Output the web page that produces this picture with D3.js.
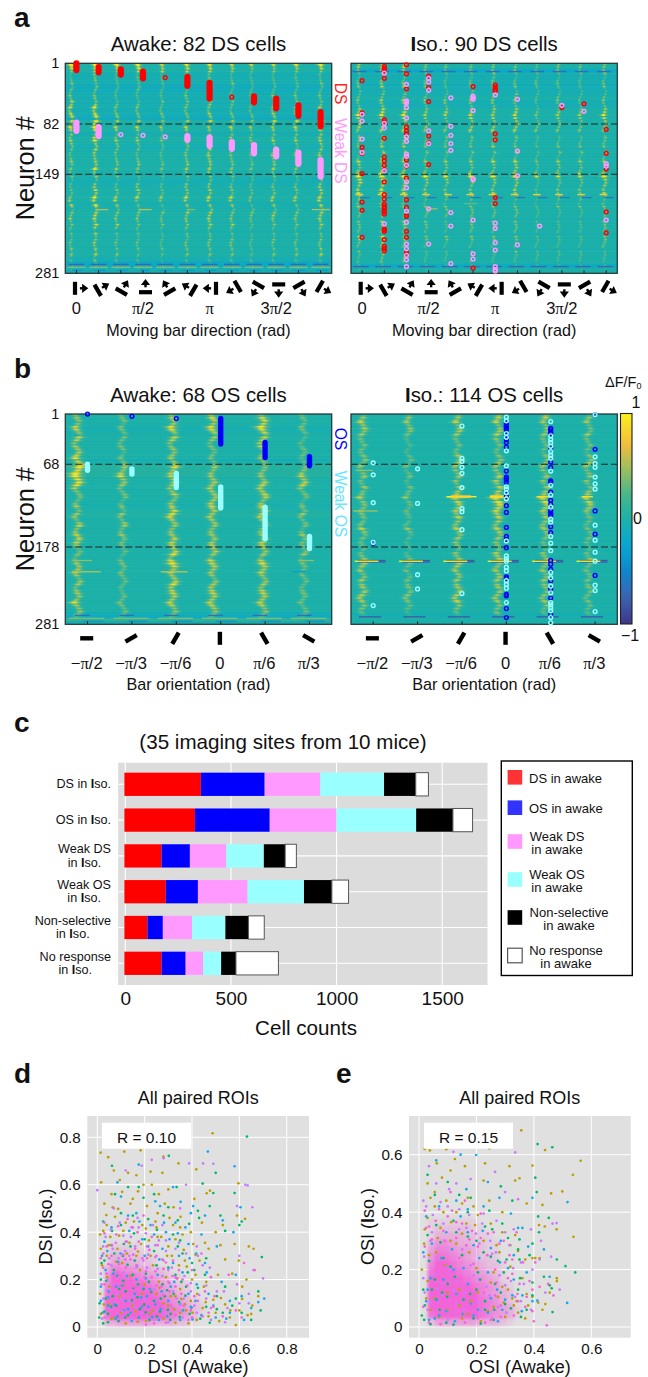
<!DOCTYPE html>
<html><head><meta charset="utf-8">
<script src="https://cdn.jsdelivr.net/npm/d3@7/dist/d3.min.js"></script>
<style>html,body{margin:0;padding:0;background:#fff}svg{display:block}text{font-family:"Liberation Sans",Arial,sans-serif;fill:#111}</style>
</head><body><svg id="fig" width="648" height="1377"></svg>
<script>
// ---------- panels a / b : stimuli ----------
const directionLabels = ["0","","","π/2","","","π","","","3π/2","",""];
const directionAngles = [0,30,60,90,120,150,180,210,240,270,300,330];
const orientationLabels = ["−π/2","−π/3","−π/6","0","π/6","π/3"];
const orientationAngles = [-90,-60,-30,0,30,60];
// streak offset from each tick, in stimulus units
const aLeftLag = [-.24,-.15,-.19,-.23,-.15,-.03,0,0,-.12,-.12,-.1,0];
const aRightLag = [-.15,-.09,-.1,-.13,-.22,-.08,-.08,-.08,-.12,-.15,-.16,-.08];
const bLeftLag = [-.23,-.21,-.08,-.18,-.05,-.14];
const bRightLag = [-.24,-.21,-.1,-.19,-.13,-.15];
// response strength per 4-neuron band, one string per stimulus (0..9)
const aLeftHeat = [
"8632223232335454565576553444332344333321223334452335332432232433521110",
"8754332432343465576887655645553445664432346565574456454353343444532110",
"7532222222222333344445433434342334343321224345343334343232232323421110",
"7642322332222333334445433433332335433221335453433334332432232322421110",
"5442222222223223334344322323232224332211223343322323332222222322311110",
"6543322322333333334445434434343335443322334454343434433333233333421110",
"6543333433334433445544444444444445544333335454444445443433333333421110",
"5432223222323322334435344343333334434322234354343334343332333333421110",
"5322222222222223233334333332322224332222223333323333322222222222321110",
"5332222322333333445544443433334335443322233444343344332332332323421110",
"6432322322333333445545443433333335433222234344333334332332232333421110",
"7533223322333344556675554444444446544433345555455445443433333434521110"];
const aRightHeat = [
"5432223323233344567655334433432356347966554644443433333334433232223110",
"6543334433334455667755434544443457558877665755544544444445544343334110",
"6543324433334444667655434544443456547866654644443444444344533333333110",
"4332223322233333445444333333332245336844443433332333333233322222222110",
"3322222222223433544433333333332245336644333333333233222223322222221110",
"3332223333333444557544433333332345336844433433433333333333322322222110",
"4333333333333444446544443434332355336744443533432333333233322322222110",
"3332223322333344557654433333442356447844544433333333333333322232222110",
"3222223222222222333333322222222234226522222222222222222222222222221110",
"4332223222233333445433332233332245336533333333332222222232222222221110",
"3322222222222233445433332233332244336533333323332222222222222222221110",
"4333223322233344567654333333332345337754543533433333333333333322222110"];
const bLeftHeat = [
"4434554554445566787998765433334334434544555433344445543443444464443200",
"3332333333332233444565443333223324334433433323223333333323223333332100",
"4545664554344444565555544453444566654444455555666765545565555555443200",
"5645665443333333344445545544555554554444444555446555443445555555543210",
"4656766555544444434444555555445665554444455554455655544444555555443200",
"3323333223233323334455554333223334333323433333433333233323333332332100"];
const bRightHeat = [
"3455544433333344343444334345444344334454333332344554434445445544432100",
"3444443322222233232333223334333233223343222221233332323334334433321100",
"4454454433333455544444434457665454544554444432444555444445545554432100",
"5554455443333344544455545557887565554555444433555445445445444544433100",
"5544444433332344444344434456775454444544433322444444434444434444332100",
"3443334433332344543443433455665443333333333222334333333334333333322100"];
// row-by-row gain, in 2-neuron bands, shared by all stimuli of a panel (5 = unchanged)
const aLeftGain  = "97584936275849163758294638175926485731946285730618492745381659274836159274083651948271635948207516394827561938420756193848276159304827165930";
const aRightGain = "64827395162847395061827394615283749061528374961058273649105827364915082736491827360591827364051928374650192837465019283746501928374651902837";
const bLeftGain  = "75869475968574295847396847586927586957486937486958475968574869758496857486937486957849685748695348596847596857486957486958475968574869586749";
const bRightGain = "46857946385749628574963857496285749638374962857296385749628574968574962857469385749628574693857496285746938574962857469385749628374693857462";
// row-by-row shift of the response, same bands (0..9, ~4.5 = centred)
const aLeftShift  = "45566543344556776543234456654332345677654334456543345567654323345566554334566765433456654322345678765433445654334556654323455665433456776543";
const aRightShift = "54433456654323445677654332345665543345677654323456654334556765433445665432345667654334456554323456776543344566543345667543234566544334567654";
const bLeftShift  = "34456654334567765432234566543345677665433345665432345677654334456543234567654333456654345567654323445665433456776543344566543234566765433456";
const bRightShift = "65543345667654323445665433456776543233456654334567654432345667543345566543234566765433445654334567765432345665433445676543234566543345677654";
// overall tint of each band across the whole width (0..9, 5 = neutral)
const aLeftTone  = "5554444333444444433555545554455555555544455555545555555555555555542244";
const aRightTone = "5514444344454445555555555555555555555555555555555555555555555555555155";
const bLeftTone  = "5555445555555554566665555555554556555555555555555555555555555555553274";
const bRightTone = "5555555555555555555555555555555555555555555555555555555555555555554455";
// [neuron, from, to, value] repeated at each stimulus (units around the tick)
const aLeftRepeat = [[269,-.35,.35,-.75],[273,-.42,.42,.42],[277,-.2,.3,-.35]];
const aRightRepeat = [[12,-.42,.2,-.7],[180,-.1,.35,-.6],[176,-.3,.05,.8],[272,-.4,.3,-.75]];
const bLeftRepeat = [[269,-.28,.05,-.65],[273,-.42,.38,.4],[277,-.1,.35,-.4]];
const bRightRepeat = [[196,-.35,.28,-.8],[198,-.35,.28,-.8],[197,-.42,.12,1],[271,-.32,.18,-.8]];
// [neuron, from, to, value] single rows, in stimulus positions
const aLeftOnce = [[196,.84,1.44,.55],[196,2.78,3.39,.55],[196,4.97,5.34,.4],[196,10.6,11.42,.55]];
const aRightOnce = [[195,2.9,3.4,.5],[188,4.6,5.2,.3]];
const bLeftOnce = [[211,-.35,.3,.55],[211,1.65,2.25,.6],[196,-.3,.1,.45],[196,4.75,5.1,.45],[211,4.6,4.9,-.35]];
const bRightOnce = [[111,1.65,2.33,1],[110,1.75,2.2,.8],[112,1.75,2.2,.8],[111,2.63,3.08,1],[110,2.63,3,.85],[112,2.63,3,.85],[111,3.68,4.0,.9],[111,4.7,4.95,.9],[130,-.45,.1,.5],[76,-.4,0,.45]];
// awake panels: selective cells sorted by preferred stimulus, [stimulus, first neuron, last neuron]
const aLeftStrong = [[0,1,10],[1,6,13],[2,9,16],[3,12,21],[4,20,20],[5,19,31],[6,27,48],[7,46,46],[8,45,53],[9,48,61],[10,57,71],[11,66,85]];
const aLeftWeak = [[0,80,91],[1,86,98],[2,96,96],[3,97,97],[4,99,99],[5,98,103],[6,100,111],[7,106,115],[8,110,121],[9,116,125],[10,120,135],[11,130,152]];
const bLeftStrong = [[0,1,1],[1,4,4],[2,7,7],[3,7,41],[4,39,59],[5,58,70]];
const bLeftWeak = [[0,68,76],[1,74,81],[2,80,99],[3,98,126],[4,125,167],[5,164,180]];
// isoflurane panels: neurons marked at each stimulus
const aRightStrong = [[24,67,113,121,148,186,197,233],[5,8,11,21,76,79,101,126,131,137,143,159,176,182,189,192,194,197,199,202,222,223,225,236,245,248,251],[3,15,35,86,91,95,130,138,154,183,193,204,205,225,233,253,256],[18,33,52,98,107,136],[],[32,274],[30,33,36,38,95,103,180,188],[],[],[60],[55],[89,121,142,199,227]];
const aRightWeak = [[69,78,102,120],[14,81,87,144,215],[29,51,52,54,60,74,99,105,122,125,137,159,167,198,213,242,248,257,263,272],[21,26,37,91,108,195,242],[47,85,97,108,117,200,218,268],[45,47,49,64,155,156,210,255,262],[43,214,221,240,250,272,276,278],[49,118,151,243],[218],[57],[65],[135,138,210]];
const bRightStrong = [[173],[],[],[13,16,18,20,22,29,35,39,45,77,85,87,89,92,103,111,123,132,152,164,168,179,218,220,241,243,260,272],[20,22,25,27,46,65,72,90,92,105,116,121,130,133,136,151,159,196,201,208,223,234,246,268],[2,48,130,161,216]];
const bRightWeak = [[66,82,119,172,256],[74,120,215,234],[17,60,64,72,80,99,127,131,155,240],[5,10,27,32,50,70,98,101,106,114,170,190,194,197,205,210,223,228,233,252],[11,30,35,39,44,51,56,60,77,96,109,125,141,145,164,173,183,212,219,230,239,252,255,259,263,272,279],[2,58,67,72,85,94,101,149,169,185,197,229,236,264]];
const rowTicksA = [1,82,149,281], rowTicksB = [1,68,178,281];
// ---------- panel c ----------
const isoStates = ["DS in Iso.","OS in Iso.","Weak DS|in Iso.","Weak OS|in Iso.","Non-selective|in Iso.","No response|in Iso."];
const awakeStates = ["DS in awake","OS in awake","Weak DS|in awake","Weak OS|in awake","Non-selective|in awake","No response|in awake"];
const dsAwake = [362,334,176,196,109,176];
const osAwake = [302,354,134,152,73,114];
const weakDsAwake = [263,316,172,235,138,82];
const weakOsAwake = [302,377,178,267,158,86];
const nonSelAwake = [150,174,101,132,109,70];
const noRespAwake = [60,93,53,79,75,201];
const countSeries = [dsAwake,osAwake,weakDsAwake,weakOsAwake,nonSelAwake,noRespAwake];
const countTicks = [0,500,1000,1500];
// ---------- panels d / e : points as x,y,x,y... in thousandths ----------
const dGold = [487,817,14,735,46,716,114,740,183,745,279,719,462,564,476,575,596,606,624,456,70,660,95,620,130,650,165,640,225,655,275,650,343,690,418,665,230,600,300,580,410,540,60,560,140,520,210,510,255,480,305,460,350,420,395,400,442,440,500,400,530,430,590,470,580,350,640,340,660,330,540,285,598,280,470,330,432,280,510,220,570,225,630,200,680,130,655,90,600,70,635,50,585,8,540,95,490,115,450,170,400,200,345,260,300,340,255,380,190,430,120,440,30,520,12,390,55,380,85,330,165,300,235,260,290,210,350,160,395,110,445,80,500,60,560,40,350,60,300,90,250,140,200,180,150,90,100,60,50,170,20,260,16,610,38,472,88,498,172,572,246,445,322,505,365,325,415,305,455,355,520,345,612,170,650,55,420,30,385,15,330,18,280,35,222,55,170,22,120,15,72,38,28,95,12,140,40,300,105,270,180,240,260,190,330,130,375,70,422,140,470,45,515,25,
 40,430,75,465,110,405,155,445,205,415,250,420,295,300,330,370,370,280,415,220,460,190,42,210,80,275,125,310,185,350,225,300,270,380,315,300,360,390,405,350,50,95,95,130,140,215,190,140,235,70,280,100,325,75,370,95,15,55,60,35,110,175,160,65,205,25,15,330,65,505,105,570,150,540,195,600,260,560,320,430,285,520,352,465,378,255,338,205,262,165,310,130,355,118,402,60,458,105,522,122,562,70,612,118,25,405,48,345,92,385,136,355,172,318,218,365];
const dGreen = [632,803,500,650,302,722,62,680,175,590,240,560,335,590,445,605,490,565,580,565,425,490,475,510,540,405,600,430,695,295,680,150,690,70,650,30,585,120,540,170,505,130,455,220,400,270,360,310,320,390,280,470,215,455,155,395,100,430,60,345,30,280,15,200,10,100,8,40,45,20,80,90,120,150,150,220,195,160,240,110,265,65,310,55,345,105,390,55,435,35,475,18,530,60,570,90,610,60,75,560,130,590,195,545,350,365,430,460,520,470,610,445,25,445,70,240,110,195,170,125,220,30,285,130,330,220,375,170,410,240,30,65,65,130,130,50,180,75,90,25,25,15,140,340,240,320,300,250,460,290,505,75,
 35,120,58,85,92,160,118,40,146,112,172,180,204,62,228,148,252,44,276,180,298,72,322,140,348,42,372,132,398,82,38,195,72,310,112,350,158,280,205,225,250,260,295,155,340,340,382,230,425,165,460,85,100,480,150,470,200,370,252,410,300,505,340,450,388,435,18,270,62,405,108,300,152,165,198,95,45,55,85,215,128,262,175,40,218,190,268,120,308,30,355,190];
const dBlue = [467,740,580,678,320,590,100,550,85,610,175,685,352,528,405,510,455,470,530,450,605,505,575,400,505,340,440,390,385,350,330,440,290,400,245,530,190,370,130,470,60,420,20,300,15,170,35,240,80,170,120,110,165,200,210,130,255,220,310,170,360,230,420,180,470,140,525,190,560,110,585,220,610,130,650,80,705,120,680,105,620,30,545,35,490,90,440,50,395,85,350,30,300,110,260,30,215,85,175,40,130,75,85,45,45,125,200,300,275,330,345,300,390,290,350,95,455,270,30,360,165,480,225,430,265,510,395,480,500,40,560,60,320,270,
 22,60,48,150,72,95,105,175,140,60,158,140,188,85,222,160,245,95,272,150,295,45,325,190,362,70,385,140,415,110,68,225,98,310,135,405,178,445,215,340,262,285,305,370,372,420,418,310,462,230,42,320,88,275,125,215,168,258,205,205,240,390,282,440,340,395,45,90,78,35,112,70,145,25,185,125,232,42,268,75,402,32,15,110];
const dPurple = [0,577,280,712,230,705,188,680,120,660,490,688,447,690,388,690,375,600,625,600,635,597,655,505,590,510,600,300,660,240,700,205,640,140,590,180,535,150,475,250,420,340,375,310,330,330,290,365,245,345,205,395,150,420,110,385,65,330,35,380,15,225,25,120,60,260,110,230,160,340,195,280,240,160,280,280,320,150,365,120,410,90,460,120,505,150,550,80,600,100,640,100,540,20,480,30,420,60,360,40,300,20,250,70,200,115,150,130,100,120,50,80,20,35,170,460,275,430,350,500,445,260,330,210,70,500,125,360,90,290,255,245,190,60,140,35,90,210,45,200,300,240,395,150,240,30,
 30,440,50,290,78,355,118,320,142,380,175,420,215,305,235,430,260,365,290,320,315,250,345,355,368,215,395,185,425,300,460,175,25,340,58,410,95,440,135,300,165,250,210,250,245,295,275,215,305,185,335,120,18,180,40,155,62,175,85,140,108,65,135,110,158,85,185,165,212,45,250,115,282,60,315,85,352,95,385,30,430,135,480,80];
const dPink = [665,240,620,270,555,220,480,210,440,310,400,240,360,200,320,280,280,245,250,300,210,340,170,400,120,360,80,390,40,340,15,290,145,420,195,470,230,380,355,140,310,90,425,110,490,85,530,45,585,70,610,40,470,60,400,40,330,50,290,18,240,15,205,10,260,100,200,210,120,250,60,300,30,180,95,150,150,170,175,105,135,190,85,230,55,110,105,85,215,155,60,60,30,40,245,60,165,45,270,170,25,250,190,290,300,190,330,170,40,225,110,305,165,260,230,210,140,285,70,200,280,135,205,235,250,175,
 30,395,62,345,88,425,128,455,152,305,175,360,220,325,255,345,290,272,318,215,345,240,380,175,410,130,455,150,495,130,25,310,48,265,92,265,118,285,160,330,210,290,245,235,275,285,305,150,335,205,365,90,395,70,445,45];
const dDensity = ["001111100000000000","012222111000000000","013332221100000000","014443322100000000","036655443221000000","048877654432110000","059988776543211000","069999887654321100","079999998765432100","089999998876543210","089999999887654321","089999999987765321","079999999887654320","033444444333322100"];
const eGold = [356,685,439,616,563,579,536,530,499,472,538,314,20,620,38,615,95,619,245,622,125,585,62,570,160,560,230,570,315,560,335,510,350,518,395,562,375,430,430,425,460,465,418,355,438,350,479,340,405,240,420,240,480,160,455,120,415,85,375,115,345,50,300,35,260,70,215,20,180,90,140,130,100,60,55,100,30,160,18,290,40,450,95,440,170,450,225,510,290,400,335,320,280,260,225,300,165,360,110,300,60,260,30,380,10,200,200,205,250,155,310,130,360,170,440,80,480,170,430,60,330,75,370,30,275,105,150,30,90,215,130,400,75,345,
 30,500,55,470,80,520,110,545,150,430,190,420,205,390,250,360,290,330,318,285,345,265,370,235,395,240,290,140,325,100,260,190,215,165,175,260,130,290,85,400,55,420,20,340,25,100,40,60,70,35,100,120,140,75,170,45,205,120,240,55,295,85,340,90,380,75,395,105,318,210,270,285,245,440,195,355,150,325,112,365,65,310,35,250];
const eGreen = [413,637,464,626,405,520,410,470,452,380,418,330,544,190,510,212,480,235,462,135,455,145,435,175,465,52,395,110,355,35,300,80,265,150,305,235,350,305,395,290,415,385,325,440,290,360,245,405,285,490,180,450,100,505,55,460,120,370,75,295,35,230,15,130,10,40,40,10,120,8,215,12,155,95,100,150,200,130,250,245,170,315,230,350,295,190,345,130,395,155,30,530,150,250,60,95,230,60,350,235,95,15,
 20,75,45,130,72,60,98,105,125,175,150,45,178,115,205,190,230,90,262,60,285,120,320,65,352,170,375,60,140,460,170,400,200,300,225,260,255,340,275,230,310,310,345,270,385,250,30,320,60,355,85,240,110,210,130,330,18,25,55,165,80,120,190,30,260,25];
const eBlue = [199,599,517,435,516,84,395,450,280,450,240,505,145,600,60,580,165,480,320,395,360,345,435,270,412,92,455,175,375,190,325,110,285,300,225,420,130,440,70,420,25,385,15,260,25,90,70,40,120,200,170,150,210,240,250,100,290,60,330,250,395,90,360,110,170,330,95,330,40,170,275,20,190,40,125,20,55,30,
 30,130,62,95,95,55,130,115,155,205,180,80,212,165,240,50,272,130,300,95,330,165,358,55,45,290,78,240,115,270,145,385,190,285,222,335,250,275,282,225,310,205,345,345,380,280,35,25,85,165,205,60,240,190,170,410];
const ePurple = [335,608,479,362,15,440,60,500,35,560,120,610,265,540,180,515,130,500,100,420,300,470,345,445,330,340,390,340,425,300,460,245,465,360,490,130,440,120,395,200,355,225,315,285,270,370,220,360,175,390,140,340,85,360,40,300,15,170,30,60,80,110,130,160,190,180,235,140,280,180,320,160,355,90,305,50,255,30,205,85,155,60,100,25,60,240,210,290,255,255,150,270,
 25,420,48,390,75,435,105,480,140,410,165,345,198,325,225,395,248,300,268,260,300,330,328,205,365,150,390,60,420,235,55,180,82,150,108,200,130,80,162,120,180,215,215,55,245,110,275,70,300,145,335,105,20,120,40,85,65,135,95,210,120,130,145,45,18,245,45,330];
const ePink = [445,6,400,20,343,115,370,70,395,130,362,225,340,330,405,225,450,150,468,110,420,140,385,160,325,235,295,300,260,330,215,395,160,440,110,470,70,410,35,350,20,280,175,305,130,365,90,300,55,200,215,310,265,200,310,170,285,75,330,40,250,25,205,30,160,15,115,40,75,10,35,15,15,70,225,120,175,75,120,120,65,150,40,110,265,110,190,220,140,240,
 25,345,58,370,85,335,115,405,150,360,185,335,205,280,238,250,270,155,300,225,325,185,350,150,375,105,395,55,20,405,45,305,100,385,130,310,165,285,240,325,280,290,315,250,345,90,285,35,230,15,195,55];
const eDensity = ["01111111000000","01222221100000","01333322110000","03554332211000","04665443211000","05776543221000","06887654322100","07998765432100","08999876543100","08999987654210","08999988654320","08999998765320","08999998765431","07999998765431","02444444333210"];
const scatterColors = ["#b9a000","#00b96b","#18a8f0","#c77cff","#f564d8"];
const dSeries = [dGold,dGreen,dBlue,dPurple,dPink];
const eSeries = [eGold,eGreen,eBlue,ePurple,ePink];
const scatterTicksD = [0,.2,.4,.6,.8], scatterTicksE = [0,.2,.4,.6];

const svg = d3.select("#fig");
const defs = svg.append("defs");
const SANS = '"Liberation Sans",Arial,sans-serif', SERIF = '"Liberation Serif",serif';
const heatColor = d3.scaleLinear().domain([-1,-.75,-.5,-.25,0,.2,.5,.72,1])
  .range(["#3d3689","#3d63b0","#0f86cc","#08a8d2","#1db1aa","#3fb68e","#a5bf5c","#f6bd3c","#f9f11a"]);
const streakColor = d3.scaleLinear().domain([0,.22,.5,.85]).range(["#1db1aa","#5eba80","#c4ca3c","#f8ea1c"]).clamp(true);

function mathText(sel, str){
  str.split(/(π)/).forEach(p=>{ if(!p) return;
    sel.append("tspan").attr("font-family",p==="π"?SERIF:SANS).style("font-family",p==="π"?SERIF:SANS).text(p); });
}
function isoText(sel,str){
  str.split(/(I(?=so))/).forEach(p=>{ if(!p) return;
    const t=sel.append("tspan").text(p); if(p==="I") t.attr("font-weight","bold"); });
}
function label(x,y,str,size,opt={}){
  const t=svg.append("text").attr("x",x).attr("y",y).attr("font-size",size)
    .attr("text-anchor",opt.anchor||"middle").attr("dominant-baseline","central");
  if(opt.color) t.style("fill",opt.color);
  if(opt.weight) t.attr("font-weight",opt.weight);
  if(opt.rotate!==undefined) t.attr("transform",`rotate(${opt.rotate} ${x} ${y})`);
  if(opt.math) mathText(t,str); else isoText(t,str);
  return t;
}
["a","b","c","d","e"].forEach((l,i)=>{
  svg.append("text").attr("x",[14,14,14,14,336][i]).attr("y",[27,378,732,1083,1083][i])
    .attr("font-size",28).attr("font-weight","bold").text(l);
});
defs.append("filter").attr("id","soft").attr("x","-5%").attr("y","-5%").attr("width","110%").attr("height","110%")
  .append("feGaussianBlur").attr("stdDeviation","0.5 0.25");
defs.append("filter").attr("id","softB").attr("x","-5%").attr("y","-5%").attr("width","110%").attr("height","110%")
  .append("feGaussianBlur").attr("stdDeviation","1.2 0.25");
defs.append("filter").attr("id","blob").attr("x","-10%").attr("y","-10%").attr("width","120%").attr("height","120%")
  .append("feGaussianBlur").attr("stdDeviation","1.4");

let clipId=0;
function heatPanel(o){
  const x=d3.scaleLinear().domain([-.5,o.n-.5]).range([o.x0,o.x1]);
  const y=d3.scaleLinear().domain([1,281]).range([o.y0,o.y1]);
  const bandH=(o.y1-o.y0)/70, fineH=bandH/2;
  const id="clip"+(clipId++);
  defs.append("clipPath").attr("id",id).append("rect").attr("x",o.x0).attr("y",o.y0).attr("width",o.x1-o.x0).attr("height",o.y1-o.y0);
  const g=svg.append("g").attr("clip-path",`url(#${id})`);
  g.append("rect").attr("x",o.x0).attr("y",o.y0).attr("width",o.x1-o.x0).attr("height",o.y1-o.y0).attr("fill",heatColor(0));
  const bands=d3.range(70), fine=d3.range(140);
  g.selectAll(".tone").data(bands).join("rect").attr("x",o.x0).attr("width",o.x1-o.x0)
    .attr("y",i=>o.y0+i*bandH).attr("height",bandH+.3)
    .attr("fill",i=>heatColor((+o.tone[i]-5)*.055));
  g.selectAll(".toneFine").data(fine).join("rect").attr("x",o.x0).attr("width",o.x1-o.x0)
    .attr("y",i=>o.y0+i*fineH).attr("height",fineH)
    .attr("fill",i=>+o.gain[i]>5?"#2fba90":"#109fc0").attr("opacity",i=>Math.abs(+o.gain[i]-5)*.025);
  const sg=g.append("g").attr("filter",`url(#${o.n===12?"soft":"softB"})`);
  const base=o.n===12?{c:.3,k:.16,m:1.7,h:3.0,s:.028,hf:.16,mf:.45,amp:.72}:{c:.5,k:.27,m:2.0,h:3.6,s:.028,hf:.15,mf:.42,amp:.66};
  o.heat.forEach((col,s)=>{
    const val=i=>Math.min(9,+col[Math.floor(i/2)]*(+o.gain[i])/5*base.amp);
    const cx=i=>x(s+o.lag[s]+(+o.shift[i]-4.5)*base.s);
    [[base.h,base.hf],[base.m,base.mf],[1,1]].forEach(([mul,f])=>{
      sg.append("g").selectAll("rect").data(fine.filter(i=>val(i)>.3)).join("rect")
        .attr("x",i=>cx(i)-(base.c+base.k*val(i))*mul).attr("width",i=>2*(base.c+base.k*val(i))*mul)
        .attr("y",i=>o.y0+i*fineH).attr("height",fineH+.15)
        .attr("fill",i=>streakColor(val(i)/9*f));
    });
  });
  const rows=[];
  d3.range(o.n).forEach(s=>o.repeat.forEach(r=>rows.push([r[0],s+r[1],s+r[2],r[3]])));
  o.once.forEach(r=>rows.push(r));
  g.selectAll(".bar").data(rows).join("rect").attr("x",d=>x(d[1])).attr("width",d=>x(d[2])-x(d[1]))
    .attr("y",d=>y(d[0])-.6).attr("height",1.3).attr("fill",d=>heatColor(d[3]));
  o.rowTicks.slice(1,3).forEach(r=>{
    svg.append("line").attr("x1",o.x0).attr("x2",o.x1).attr("y1",y(r)).attr("y2",y(r))
      .attr("stroke","#222").attr("stroke-width",1.1).attr("stroke-dasharray","7 3");
  });
  svg.append("rect").attr("x",o.x0).attr("y",o.y0).attr("width",o.x1-o.x0).attr("height",o.y1-o.y0)
    .attr("fill","none").attr("stroke","#263a3a").attr("stroke-width",1.3);
  svg.selectAll(null).data(d3.range(o.n)).join("line").attr("x1",s=>x(s)).attr("x2",s=>x(s))
    .attr("y1",o.y1).attr("y2",o.y1-3).attr("stroke","#222");
  if(o.showRows){
    const ax=svg.append("g").attr("transform",`translate(${o.x0-3},0)`).call(d3.axisLeft(y).tickValues(o.rowTicks).tickSize(0).tickFormat(d3.format("d")));
    ax.select(".domain").remove();
    ax.selectAll("text").attr("font-size",14.5).attr("dx",0).style("font-family",SANS);
    label(25,(o.y0+o.y1)/2,"Neuron #",25.3,{rotate:-90});
  }
  const marker=(list,color,w)=>{
    list.forEach(([s,a,b])=>{
      if(a===b) svg.append("circle").attr("cx",x(s)).attr("cy",y(a)).attr("r",1.9).attr("fill","none").attr("stroke",color).attr("stroke-width",1.45);
      else svg.append("line").attr("x1",x(s)).attr("x2",x(s)).attr("y1",y(a)).attr("y2",y(b)).attr("stroke",color).attr("stroke-width",w).attr("stroke-linecap","round");
    });
  };
  if(o.strongCaps){ marker(o.strongCaps,o.strongColor,o.capW); marker(o.weakCaps,o.weakColor,o.capW); }
  else {
    [[o.strongRows,o.strongColor],[o.weakRows,o.weakColor]].forEach(([rows,color])=>{
      rows.forEach((col,s)=>{
        svg.append("g").selectAll("circle").data(col).join("circle").attr("cx",x(s)).attr("cy",d=>y(d)).attr("r",1.9)
          .attr("fill","none").attr("stroke",color).attr("stroke-width",1.45);
      });
    });
  }
  const cx=(o.x0+o.x1)/2;
  d3.range(o.n).forEach(s=>{
    if(o.n===12){
      const G=svg.append("g").attr("transform",`translate(${x(s)+2.5},${o.y1+15}) rotate(${-directionAngles[s]})`);
      G.append("rect").attr("x",-6).attr("y",-6.5).attr("width",4.2).attr("height",13).attr("fill","#000");
      G.append("line").attr("x1",1).attr("x2",6).attr("y1",0).attr("y2",0).attr("stroke","#000").attr("stroke-width",2.4);
      G.append("path").attr("d","M3.2,-4.6 L9.4,0 L3.2,4.6 Z").attr("fill","#000");
      if(directionLabels[s]) label(x(s),o.y1+35,directionLabels[s],16.5,{math:true});
    } else {
      const G=svg.append("g").attr("transform",`translate(${x(s)-.8},${o.y1+14}) rotate(${-orientationAngles[s]})`);
      G.append("rect").attr("x",-2.2).attr("y",-6.5).attr("width",4.4).attr("height",13).attr("fill","#000");
      label(x(s)-.8,o.y1+39,orientationLabels[s],16.5,{math:true});
    }
  });
  label(cx,o.y1+(o.n===12?57:60),o.n===12?"Moving bar direction (rad)":"Bar orientation (rad)",16.2);
  label(cx,o.y0-19,o.title,20.4);
}
heatPanel({n:12,x0:65.3,x1:331.7,y0:63.3,y1:273.3,heat:aLeftHeat,gain:aLeftGain,shift:aLeftShift,lag:aLeftLag,tone:aLeftTone,repeat:aLeftRepeat,once:aLeftOnce,rowTicks:rowTicksA,showRows:true,strongCaps:aLeftStrong,weakCaps:aLeftWeak,strongColor:"#ff0000",weakColor:"#ff99ff",capW:6.2,title:"Awake: 82 DS cells"});
heatPanel({n:12,x0:351,x1:617.3,y0:63.3,y1:273.3,heat:aRightHeat,gain:aRightGain,shift:aRightShift,lag:aRightLag,tone:aRightTone,repeat:aRightRepeat,once:aRightOnce,rowTicks:rowTicksA,strongRows:aRightStrong,weakRows:aRightWeak,strongColor:"#ff0000",weakColor:"#ff99ff",title:"Iso.: 90 DS cells"});
heatPanel({n:6,x0:65.3,x1:331.7,y0:414,y1:624.3,heat:bLeftHeat,gain:bLeftGain,shift:bLeftShift,lag:bLeftLag,tone:bLeftTone,repeat:bLeftRepeat,once:bLeftOnce,rowTicks:rowTicksB,showRows:true,strongCaps:bLeftStrong,weakCaps:bLeftWeak,strongColor:"#0000ff",weakColor:"#99ffff",capW:5.4,title:"Awake: 68 OS cells"});
heatPanel({n:6,x0:351,x1:617.3,y0:414,y1:624.3,heat:bRightHeat,gain:bRightGain,shift:bRightShift,lag:bRightLag,tone:bRightTone,repeat:bRightRepeat,once:bRightOnce,rowTicks:rowTicksB,strongRows:bRightStrong,weakRows:bRightWeak,strongColor:"#0000ff",weakColor:"#99ffff",title:"Iso.: 114 OS cells"});
label(340.8,93.5,"DS",15.6,{rotate:90,color:"#ff2222"});
label(340.8,151,"Weak DS",15.6,{rotate:90,color:"#ff99ff"});
label(340.8,439,"OS",15.6,{rotate:90,color:"#0000ff"});
label(340.8,504,"Weak OS",15.6,{rotate:90,color:"#66e6ff"});
const grad=defs.append("linearGradient").attr("id","cb").attr("x1",0).attr("x2",0).attr("y1",1).attr("y2",0);
d3.range(0,1.001,.05).forEach(t=>grad.append("stop").attr("offset",t).attr("stop-color",heatColor(t*2-1)));
svg.append("rect").attr("x",620.5).attr("y",413.5).attr("width",11.5).attr("height",210.5).attr("fill","url(#cb)").attr("stroke","#222").attr("stroke-width",1.1);
const dft=svg.append("text").attr("x",605).attr("y",382).attr("font-size",14.5).attr("dominant-baseline","central");
dft.append("tspan").text("ΔF/F");dft.append("tspan").attr("font-size",9).attr("dy",4).text("0");
label(636,402,"1",16);label(637.5,518,"0",16);label(630,635,"−1",16);

// ---------- panel c ----------
(function(){
  const bg={x0:118.2,x1:487.5,y0:762.7,y1:985};
  const x=d3.scaleLinear().domain([0,1500]).range([125.3,442.2]);
  const y=d3.scaleBand().domain(isoStates).range([766.4,981.2]).paddingInner(.35).paddingOuter(.175);
  svg.append("rect").attr("x",bg.x0).attr("y",bg.y0).attr("width",bg.x1-bg.x0).attr("height",bg.y1-bg.y0).attr("fill","#dcdcdc");
  svg.selectAll(null).data(countTicks).join("line").attr("x1",d=>x(d)).attr("x2",d=>x(d)).attr("y1",bg.y0).attr("y2",bg.y1).attr("stroke","#fff").attr("stroke-width",1.1);
  svg.selectAll(null).data(isoStates).join("line").attr("y1",d=>y(d)+y.bandwidth()/2).attr("y2",d=>y(d)+y.bandwidth()/2).attr("x1",bg.x0).attr("x2",bg.x1).attr("stroke","#fff").attr("stroke-width",1.1);
  const colors=["#ff0000","#0000ff","#ff99ff","#99ffff","#000000","#ffffff"];
  const stack=d3.stack().keys(d3.range(6)).value((d,k)=>countSeries[k][d])(d3.range(6));
  stack.forEach((layer,k)=>{
    svg.append("g").selectAll("rect").data(layer).join("rect")
      .attr("x",d=>x(d[0])-.9).attr("width",d=>x(d[1])-x(d[0]))
      .attr("y",(d,i)=>y(isoStates[i])).attr("height",y.bandwidth()).attr("fill",colors[k])
      .attr("stroke",k===5?"#555":"none").attr("stroke-width",1);
  });
  const ax=svg.append("g").attr("transform",`translate(0,${bg.y1+3})`).call(d3.axisBottom(x).tickValues(countTicks).tickSize(0).tickFormat(d3.format("d")));
  ax.select(".domain").remove();ax.selectAll("text").attr("font-size",19).style("font-family",SANS);
  isoStates.forEach(s=>{
    const L=s.split("|"),c=y(s)+y.bandwidth()/2;
    if(L.length===1){ label(111,c,L[0],12.6,{anchor:"end"}); return; }
    const a=label(0,0,L[0],12.6), w=a.node().getComputedTextLength(); a.remove();
    L.forEach((t,i)=>label(111-w/2,c+(i-.5)*13.3,t,12.6));
  });
  label(306,1027,"Cell counts",20.6);
  label(283,741,"(35 imaging sites from 10 mice)",20.6);
  svg.append("rect").attr("x",501.3).attr("y",761).attr("width",131).attr("height",214.5).attr("fill","#fff").attr("stroke","#000").attr("stroke-width",1.4);
  const legendFill=["#ff3333","#3333ff","#ff99ff","#99ffff","#000000","#ffffff"];
  const centers=[777.3,807.7,841.5,879.5,917.5,955.5];
  awakeStates.forEach((s,i)=>{
    svg.append("rect").attr("x",507.6).attr("y",centers[i]-7.3).attr("width",14.6).attr("height",14.6)
      .attr("fill",legendFill[i]).attr("stroke",i===5?"#555":"none").attr("stroke-width",1.2);
    const L=s.split("|");
    if(L.length===1) label(529,centers[i]+.5,L[0],13,{anchor:"start"});
    else {
      const mid=[0,0,557,557,569,566][i];
      L.forEach((t,j)=>label(mid,centers[i]+(j-.5)*13+.5,t,13));
    }
  });
})();

// ---------- panels d, e ----------
function scatterPanel(o){
  const x=d3.scaleLinear().domain([0,o.ticks[o.ticks.length-1]]).range([o.xz,o.xm]);
  const y=d3.scaleLinear().domain([0,o.ticks[o.ticks.length-1]]).range([1327,o.ym]);
  svg.append("rect").attr("x",o.x0).attr("y",1116).attr("width",o.x1-o.x0).attr("height",221.7).attr("fill","#e0e0e0");
  svg.selectAll(null).data(o.ticks).join("line").attr("x1",d=>x(d)).attr("x2",d=>x(d)).attr("y1",1116).attr("y2",1337.7).attr("stroke","#fff").attr("stroke-width",1);
  svg.selectAll(null).data(o.ticks).join("line").attr("y1",d=>y(d)).attr("y2",d=>y(d)).attr("x1",o.x0).attr("x2",o.x1).attr("stroke","#fff").attr("stroke-width",1);
  const cover=svg.append("g").attr("filter","url(#blob)");
  const nr=o.density.length;
  o.density.forEach((row,r)=>{
    cover.append("g").selectAll("rect").data(row.split("")).join("rect")
      .attr("x",(d,c)=>x(c*.025+.005)).attr("width",x(.025)-x(0)+.3)
      .attr("y",y((nr-r)*.025+.005)).attr("height",y(0)-y(.025)+.3)
      .attr("fill","#f264d8").attr("opacity",d=>Math.min(1,+d/8));
  });
  o.series.forEach((arr,k)=>{
    const pts=d3.range(0,arr.length,2).map(i=>[arr[i]/1000,arr[i+1]/1000]);
    svg.append("g").selectAll("circle").data(pts).join("circle")
      .attr("cx",d=>x(d[0])).attr("cy",d=>y(d[1])).attr("r",1.35).attr("fill",scatterColors[k]);
  });
  svg.append("rect").attr("x",o.rx).attr("y",1122.7).attr("width",89).attr("height",26).attr("fill","#fff");
  label(o.rx+44.5,1136.5,o.r,15.5);
  const ax=svg.append("g").attr("transform",`translate(0,1340)`).call(d3.axisBottom(x).tickValues(o.ticks).tickSize(0).tickFormat(d=>d===0?"0":d3.format(".1f")(d)));
  ax.select(".domain").remove();ax.selectAll("text").attr("font-size",15.2).style("font-family",SANS);
  const ay=svg.append("g").attr("transform",`translate(${o.x0-3.5},0)`).call(d3.axisLeft(y).tickValues(o.ticks).tickSize(0).tickFormat(d=>d===0?"0":d3.format(".1f")(d)));
  ay.select(".domain").remove();ay.selectAll("text").attr("font-size",15.2).style("font-family",SANS);
  label((o.x0+o.x1)/2,1098,"All paired ROIs",18);
  label((o.x0+o.x1)/2,1367,o.xl,18);
  label(o.x0-41.5,1226.5,o.yl,18,{rotate:-90});
}
scatterPanel({x0:87.3,x1:309,xz:97.3,xm:286.7,ym:1137.3,ticks:scatterTicksD,series:dSeries,density:dDensity,rx:102,r:"R = 0.10",xl:"DSI (Awake)",yl:"DSI (Iso.)"});
scatterPanel({x0:409,x1:630.7,xz:419,xm:591.3,ym:1154.7,ticks:scatterTicksE,series:eSeries,density:eDensity,rx:424,r:"R = 0.15",xl:"OSI (Awake)",yl:"OSI (Iso.)"});
</script></body></html>
